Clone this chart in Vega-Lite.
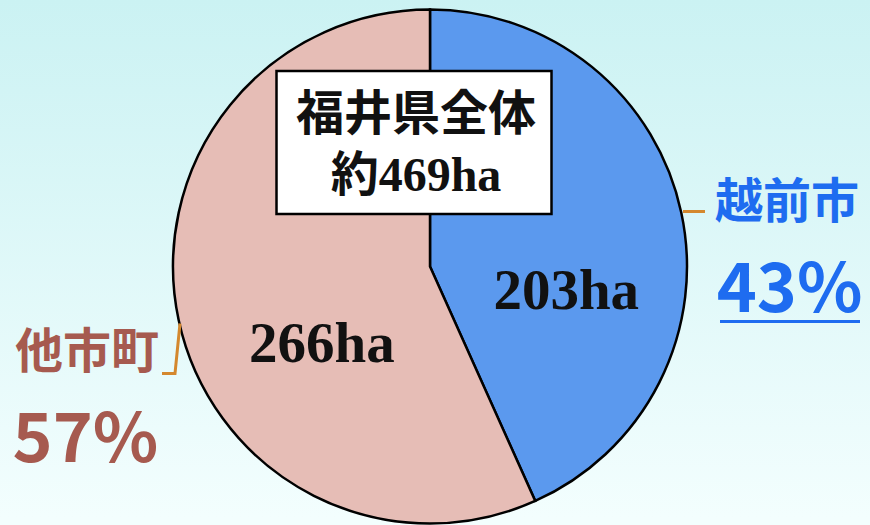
{
  "$schema": "https://vega.github.io/schema/vega-lite/v6.json",
  "width": 870,
  "height": 525,
  "padding": 0,
  "autosize": {"type": "fit", "contains": "padding"},
  "background": "#f3fefe",
  "view": {
    "stroke": null,
    "fill": {"gradient": "linear", "x1": 0, "y1": 0, "x2": 0, "y2": 1,
             "stops": [{"offset": 0, "color": "#cbf2f3"}, {"offset": 1, "color": "#f3fefe"}]}
  },
  "datasets": {
    "share": [
      {"city": "越前市", "ha": 203, "haLabel": "203ha", "pct": "43%"},
      {"city": "他市町", "ha": 266, "haLabel": "266ha", "pct": "57%"}
    ],
    "total": [
      {"title": "福井県全体", "label": "約469ha"}
    ]
  },
  "data": {"name": "share"},
  "resolve": {"scale": {"color": "independent"}},
  "layer": [
    {
      "mark": {"type": "arc", "outerRadius": 257, "stroke": "#000000", "strokeWidth": 2.5, "xOffset": -5, "yOffset": 7.5},
      "encoding": {
        "theta": {"field": "ha", "type": "quantitative", "stack": true},
        "order": {"field": "ha", "type": "quantitative", "sort": "ascending"},
        "color": {"field": "city", "type": "nominal", "legend": null,
                  "scale": {"domain": ["越前市", "他市町"], "range": ["#5b99ee", "#e6bdb6"]}}
      }
    },
    {
      "mark": {"type": "text", "radius": 125, "dx": 9, "dy": 59.5, "font": "Liberation Serif", "fontWeight": "bold", "fontSize": 57, "color": "#111111", "align": "center", "baseline": "middle"},
      "encoding": {
        "theta": {"field": "ha", "type": "quantitative", "stack": true},
        "order": {"field": "ha", "type": "quantitative", "sort": "ascending"},
        "text": {"field": "haLabel", "type": "nominal"}
      }
    },
    {
      "mark": {"type": "text", "radius": 358, "dx": 2, "dy": 20, "font": "Noto Sans CJK JP", "fontWeight": "bold", "fontSize": 48, "align": "center", "baseline": "middle"},
      "encoding": {
        "theta": {"field": "ha", "type": "quantitative", "stack": true},
        "order": {"field": "ha", "type": "quantitative", "sort": "ascending"},
        "text": {"field": "city", "type": "nominal"},
        "color": {"field": "city", "type": "nominal", "legend": null,
                  "scale": {"domain": ["越前市", "他市町"], "range": ["#1e6cf0", "#a65a4f"]}}
      }
    },
    {
      "mark": {"type": "text", "radius": 360, "dx": 2.5, "dy": 108, "font": "Noto Sans CJK JP", "fontWeight": "bold", "fontSize": 68, "align": "center", "baseline": "middle"},
      "encoding": {
        "theta": {"field": "ha", "type": "quantitative", "stack": true},
        "order": {"field": "ha", "type": "quantitative", "sort": "ascending"},
        "text": {"field": "pct", "type": "nominal"},
        "color": {"field": "city", "type": "nominal", "legend": null,
                  "scale": {"domain": ["越前市", "他市町"], "range": ["#1e6cf0", "#a65a4f"]}}
      }
    },
    {
      "transform": [{"filter": "datum.city === '越前市'"}],
      "layer": [
        {
          "mark": {"type": "point", "shape": "M-1,0H1", "size": 19600, "filled": false, "stroke": "#1e6cf0", "strokeWidth": 3, "opacity": 1, "xOffset": 355, "yOffset": 62.5},
          "encoding": {}
        },
        {
          "mark": {"type": "point", "shape": "M-1,0H1", "size": 484, "filled": false, "stroke": "#d4882e", "strokeWidth": 3, "opacity": 1, "xOffset": 259, "yOffset": -47.5},
          "encoding": {}
        }
      ]
    },
    {
      "transform": [{"filter": "datum.city === '他市町'"}],
      "mark": {"type": "point", "shape": "M-0.36,1L0.16,1L0.36,-1", "size": 2500, "filled": false, "stroke": "#d4882e", "strokeWidth": 3, "opacity": 1, "xOffset": -264, "yOffset": 89.5},
      "encoding": {}
    },
    {
      "data": {"name": "total"},
      "layer": [
        {
          "mark": {"type": "point", "shape": "M-1,-0.52H1V0.52H-1Z", "size": 75625, "filled": true, "fill": "#ffffff", "stroke": "#000000", "strokeWidth": 2.5, "opacity": 1, "fillOpacity": 1, "xOffset": -21, "yOffset": -116.5},
          "encoding": {}
        },
        {
          "mark": {"type": "text", "font": "Noto Sans CJK JP", "fontWeight": "bold", "fontSize": 48, "color": "#111111", "align": "center", "baseline": "middle", "dx": -19, "dy": -143.5},
          "encoding": {"text": {"field": "title", "type": "nominal"}}
        },
        {
          "mark": {"type": "text", "font": "Liberation Serif, Noto Sans CJK JP", "fontWeight": "bold", "fontSize": 48, "color": "#111111", "align": "center", "baseline": "middle", "dx": -19, "dy": -82.5},
          "encoding": {"text": {"field": "label", "type": "nominal"}}
        }
      ]
    }
  ]
}
